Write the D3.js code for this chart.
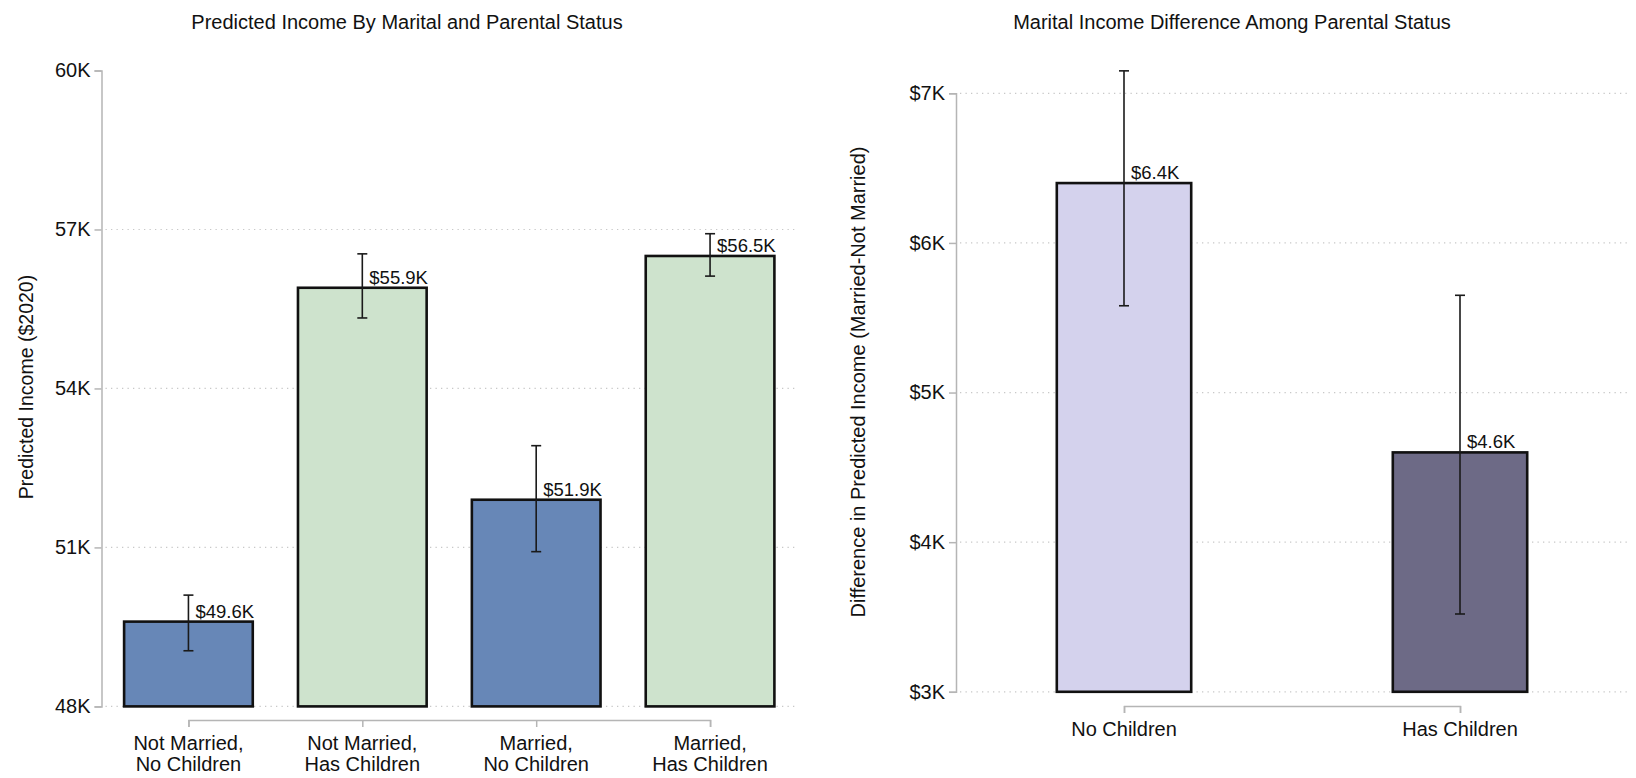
<!DOCTYPE html>
<html>
<head>
<meta charset="utf-8">
<script src="https://cdn.jsdelivr.net/npm/d3@7"></script>
<style>
  html, body { margin: 0; padding: 0; background: #fff; }
  svg { display: block; font-family: "Liberation Sans", Arial, sans-serif; }
</style>
</head>
<body>
<svg id="chart" width="1636" height="778"></svg>
<script>
// Predicted income (thousands of 2020 dollars) by marital and parental status
const incomeCategories = [
  ["Not Married,", "No Children"],
  ["Not Married,", "Has Children"],
  ["Married,", "No Children"],
  ["Married,", "Has Children"]
];
const incomeParental = ["No Children", "Has Children", "No Children", "Has Children"];
const incomeValues = [49.6, 55.9, 51.9, 56.5];
const incomeLow = [49.05, 55.33, 50.92, 56.12];
const incomeHigh = [50.1, 56.54, 52.92, 56.92];
const incomeTicks = [48, 51, 54, 57, 60];

// Married minus not-married difference (thousands) within each parental group
const diffCategories = ["No Children", "Has Children"];
const diffValues = [6.4, 4.6];
const diffLow = [5.58, 3.52];
const diffHigh = [7.15, 5.65];
const diffTicks = [3, 4, 5, 6, 7];

const incomeColors = { "No Children": "#6787b7", "Has Children": "#cee3cd" };
const diffColors = { "No Children": "#d4d2ed", "Has Children": "#6d6a86" };

const svg = d3.select("#chart");
const FONT = 20;

function panel(cfg) {
  const g = svg.append("g");
  const x = d3.scaleBand()
    .domain(d3.range(cfg.values.length))
    .range(cfg.xRange)
    .paddingInner(cfg.padInner)
    .paddingOuter(cfg.padInner / 2);
  const y = d3.scaleLinear().domain(cfg.yDomain).range(cfg.yRange);

  // title
  g.append("text")
    .attr("x", cfg.titleX).attr("y", 29)
    .attr("text-anchor", "middle")
    .attr("font-size", 20).attr("fill", "#111")
    .text(cfg.title);

  // dotted gridlines
  g.append("g").selectAll("line")
    .data(cfg.gridTicks)
    .join("line")
    .attr("x1", cfg.xRange[0] + 4).attr("x2", cfg.xRange[1])
    .attr("y1", d => y(d)).attr("y2", d => y(d))
    .attr("stroke", "#c8c8c8").attr("stroke-width", 1.2)
    .attr("stroke-dasharray", "1.3 4.2");

  // y axis
  const yAxis = d3.axisLeft(y)
    .tickValues(cfg.ticks)
    .tickFormat(cfg.tickFormat)
    .tickSize(7).tickSizeOuter(7).tickPadding(4);
  const ya = g.append("g")
    .attr("transform", `translate(${cfg.xRange[0]},0)`)
    .call(yAxis);
  ya.select(".domain").attr("stroke", "#b5b5b5").attr("stroke-width", 1.5);
  ya.selectAll(".tick line").attr("stroke", "#b5b5b5").attr("stroke-width", 1.5);
  ya.selectAll(".tick text").attr("font-size", FONT).attr("fill", "#111")
    .attr("font-family", "Liberation Sans, Arial, sans-serif");

  // y axis title
  g.append("text")
    .attr("transform", `translate(${cfg.yLabelX},${cfg.yLabelY}) rotate(-90)`)
    .attr("text-anchor", "middle")
    .attr("font-size", cfg.yLabelSize).attr("fill", "#111")
    .text(cfg.yLabel);

  // bars
  const base = cfg.yDomain[0];
  g.append("g").selectAll("rect")
    .data(cfg.values)
    .join("rect")
    .attr("x", (d, i) => x(i))
    .attr("width", x.bandwidth())
    .attr("y", d => y(d))
    .attr("height", d => y(base) - y(d))
    .attr("fill", (d, i) => cfg.colors[i])
    .attr("stroke", "#111").attr("stroke-width", 2.6);

  // error bars
  const cx = i => x(i) + x.bandwidth() / 2;
  const eb = g.append("g").attr("stroke", "#1a1a1a").attr("stroke-width", 1.6);
  cfg.values.forEach((v, i) => {
    eb.append("line").attr("x1", cx(i)).attr("x2", cx(i))
      .attr("y1", y(cfg.low[i])).attr("y2", y(cfg.high[i]));
    [cfg.low[i], cfg.high[i]].forEach(e => {
      eb.append("line").attr("x1", cx(i) - 5).attr("x2", cx(i) + 5)
        .attr("y1", y(e)).attr("y2", y(e));
    });
  });

  // value labels
  g.append("g").selectAll("text")
    .data(cfg.values)
    .join("text")
    .attr("x", (d, i) => cx(i) + 7)
    .attr("y", d => y(d) - 4)
    .attr("font-size", 18.5).attr("fill", "#111")
    .text(d => "$" + d3.format(".1f")(d) + "K");

  // category bracket axis
  const centers = d3.scalePoint()
    .domain(d3.range(cfg.values.length))
    .range([cx(0), cx(cfg.values.length - 1)]);
  const xa = g.append("g")
    .attr("transform", `translate(0,${cfg.bracketY})`)
    .call(d3.axisBottom(centers).tickSize(7).tickSizeOuter(7).tickFormat(""));
  xa.select(".domain").attr("stroke", "#b5b5b5").attr("stroke-width", 1.5);
  xa.selectAll(".tick line").attr("stroke", "#b5b5b5").attr("stroke-width", 1.5);

  const labels = g.append("g").selectAll("text")
    .data(cfg.categories)
    .join("text")
    .attr("x", (d, i) => cx(i))
    .attr("y", cfg.bracketY + 30)
    .attr("text-anchor", "middle")
    .attr("font-size", FONT).attr("fill", "#111");
  labels.each(function (d) {
    const lines = Array.isArray(d) ? d : [d];
    d3.select(this).selectAll("tspan")
      .data(lines)
      .join("tspan")
      .attr("x", d3.select(this).attr("x"))
      .attr("dy", (t, j) => j === 0 ? 0 : 21)
      .text(t => t);
  });
}

panel({
  title: "Predicted Income By Marital and Parental Status",
  titleX: 407,
  values: incomeValues, low: incomeLow, high: incomeHigh,
  categories: incomeCategories,
  colors: incomeParental.map(p => incomeColors[p]),
  xRange: [101.5, 797], padInner: 0.26,
  yDomain: [48, 60], yRange: [706.4, 70.5],
  ticks: incomeTicks, gridTicks: incomeTicks.filter(t => t < 60),
  tickFormat: d => d + "K",
  yLabel: "Predicted Income ($2020)", yLabelX: 33, yLabelY: 387, yLabelSize: 19.5,
  bracketY: 720
});

panel({
  title: "Marital Income Difference Among Parental Status",
  titleX: 1232,
  values: diffValues, low: diffLow, high: diffHigh,
  categories: diffCategories,
  colors: diffCategories.map(p => diffColors[p]),
  xRange: [956, 1628], padInner: 0.6,
  yDomain: [3, 7], yRange: [691.8, 93.3],
  ticks: diffTicks, gridTicks: diffTicks,
  tickFormat: d => "$" + d + "K",
  yLabel: "Difference in Predicted Income (Married-Not Married)", yLabelX: 865, yLabelY: 382, yLabelSize: 20,
  bracketY: 706
});
</script>
</body>
</html>
